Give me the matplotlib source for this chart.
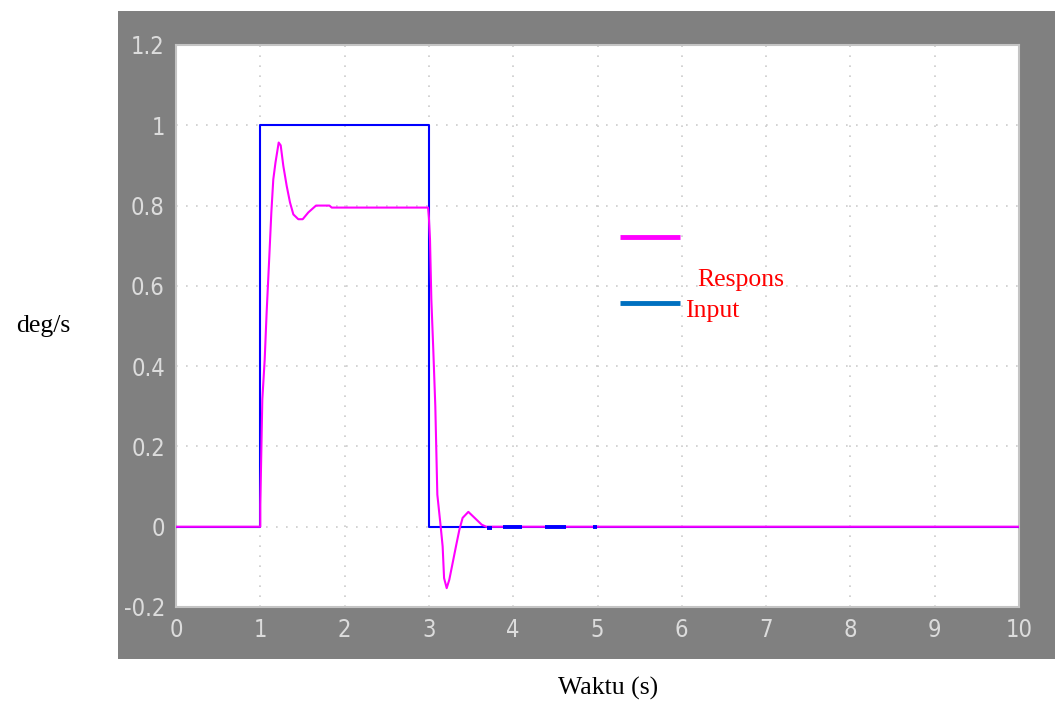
import matplotlib
matplotlib.use("Agg")
import matplotlib.pyplot as plt
from matplotlib.patches import Rectangle
from matplotlib.lines import Line2D

# input step (deg/s)
input_t = [0.0, 1.0, 1.0, 3.0, 3.0, 10.0]
input_y = [0.0, 0.0, 1.0, 1.0, 0.0, 0.0]

# response
resp_t = [0.0, 1.0, 1.0, 1.024, 1.052, 1.075, 1.107, 1.131, 1.154, 1.18, 1.218,
          1.242, 1.273, 1.313, 1.352, 1.392, 1.451, 1.503, 1.57, 1.661, 1.82,
          1.847, 2.99, 3.0, 3.013, 3.029, 3.052, 3.076, 3.1, 3.14, 3.163, 3.18,
          3.211, 3.242, 3.282, 3.321, 3.361, 3.40, 3.468, 3.627, 3.68, 10.0]
resp_y = [0.0, 0.0, 0.055, 0.317, 0.416, 0.533, 0.674, 0.783, 0.865, 0.907, 0.957,
          0.95, 0.899, 0.849, 0.808, 0.778, 0.766, 0.766, 0.783, 0.800, 0.800,
          0.795, 0.795, 0.77, 0.716, 0.566, 0.441, 0.30, 0.08, 0.0, -0.049, -0.128,
          -0.153, -0.132, -0.09, -0.049, -0.008, 0.022, 0.037, 0.005, 0.0, 0.0]

# small blue bits of the input trace showing through near zero
blip_starts = [3.685, 3.875, 4.377, 4.945]
blip_ends = [3.75, 4.11, 4.626, 4.99]
blip_y = [-0.003, 0.0, 0.0, 0.0]

xticks = list(range(0, 11))
yticks = [-0.2, 0.0, 0.2, 0.4, 0.6, 0.8, 1.0, 1.2]
ytick_labels = ["-0.2", "0", "0.2", "0.4", "0.6", "0.8", "1", "1.2"]

W, H = 1062, 719
fig = plt.figure(figsize=(W / 100, H / 100), dpi=100, facecolor="white")

# scope grey panel
fig.patches.append(Rectangle((118 / W, 1 - 659 / H), (1055 - 118) / W, (659 - 11) / H,
                             transform=fig.transFigure, facecolor="#808080",
                             edgecolor="none", zorder=-10))

ax = fig.add_axes([176 / W, 1 - 607 / H, (1019 - 176) / W, (607 - 45) / H])
ax.set_zorder(1)
ax.set_facecolor("white")
ax.set_xlim(0, 10)
ax.set_ylim(-0.2, 1.2)

tick_font = ["Liberation Sans Narrow", "DejaVu Sans"]
ax.set_xticks(xticks)
ax.set_xticklabels([str(v) for v in xticks], family=tick_font, fontsize=17,
                   fontstretch="condensed", color="#dcdcdc")
ax.set_yticks(yticks)
ax.set_yticklabels(ytick_labels, family=tick_font, fontsize=17,
                   fontstretch="condensed", color="#dcdcdc")
ax.tick_params(axis="x", length=0, pad=8)
ax.tick_params(axis="y", length=0, pad=8)
for s in ax.spines.values():
    s.set_color("#c4c4c4")
    s.set_linewidth(1.5)

ax.grid(True, color="#cccccc", linestyle=(0, (1, 5)), linewidth=1.2)

ax.plot(input_t, input_y, color="#0000ff", linewidth=1.5, zorder=3)
ax.plot(resp_t, resp_y, color="#ff00ff", linewidth=1.5, zorder=4)
for a, b, yy in zip(blip_starts, blip_ends, blip_y):
    ax.plot([a, b], [yy, yy], color="#0000ff", linewidth=2.8, solid_capstyle="butt", zorder=5)

# hand-made legend
fig.add_artist(Line2D([620 / W, 680 / W], [1 - 237 / H, 1 - 237 / H], color="#ff00ff",
                      linewidth=3.5, solid_capstyle="butt", transform=fig.transFigure, zorder=5))
fig.add_artist(Line2D([620 / W, 680 / W], [1 - 303 / H, 1 - 303 / H], color="#0070c0",
                      linewidth=3.5, solid_capstyle="butt", transform=fig.transFigure, zorder=5))
serif = "Liberation Serif"
fig.text(697 / W, 1 - 286 / H, "Respons", color="red", family=serif, fontsize=18.5,
         ha="left", va="baseline", zorder=5)
fig.text(685 / W, 1 - 317 / H, "Input", color="red", family=serif, fontsize=18.5,
         ha="left", va="baseline", zorder=5)

fig.text(16 / W, 1 - 332 / H, "deg/s", color="black", family=serif, fontsize=18.5,
         ha="left", va="baseline")
fig.text(608 / W, 1 - 695 / H, "Waktu (s)", color="black", family=serif, fontsize=18.5,
         ha="center", va="baseline")

fig.savefig("out.png", dpi=100, facecolor=fig.get_facecolor())
